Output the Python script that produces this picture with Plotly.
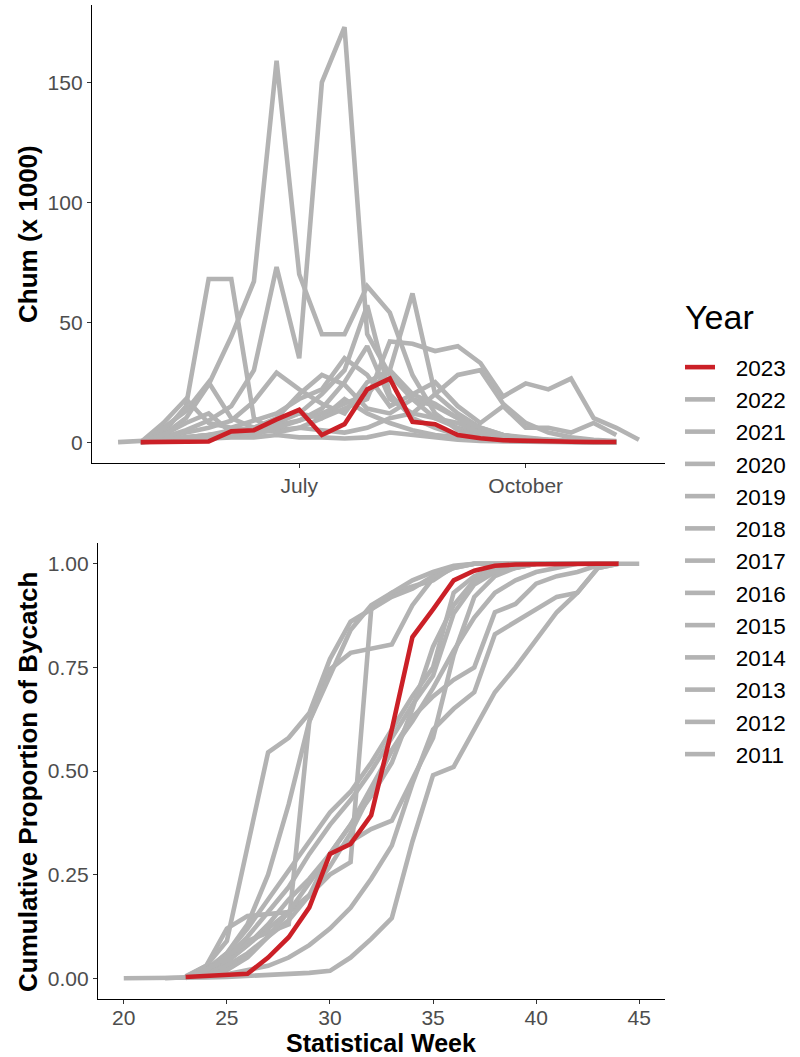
import plotly.graph_objects as go

# ---------------- data ----------------
years = ["2023", "2022", "2021", "2020", "2019", "2018", "2017",
         "2016", "2015", "2014", "2013", "2012", "2011"]

weeks_top = list(range(22, 46))      # statistical weeks for weekly chum (x 1000)
weeks_bottom = list(range(20, 46))   # statistical weeks for cumulative proportion

# weekly chum bycatch (x 1000), weeks 22..45 (None = no data)
chum_2023 = [None, 0, 0, 0, 0.3, 4.5, 5, 9.5, 13.5, 3, 7.5, 22, 26.5, 8.5, 7.5, 3, 1.6, 0.8, 0.5, 0.3, 0.2, 0.1, 0.1, None]
chum_2022 = [None, 0, 8, 18, 8, 6, 9, 12, 18, 22, 35, 28, 15, 20, 16, 10, 6, 3, 1, 0.5, 0.2, 0, 0, None]
chum_2021 = [None, 0, 1, 2, 3, 4, 6, 9, 12, 10, 14, 18, 42, 41, 38, 40, 33, 19, 24.5, 22, 26.5, 10, 6, 1]
chum_2020 = [None, 0, 3, 8, 12, 4, 3, 6, 9, 14, 25, 40, 18, 12, 10, 8, 4, 2, 1, 0.5, 0.2, 0.1, 0, None]
chum_2019 = [None, 0, 3, 10, 24, 44, 67, 159, 70, 45, 45, 65, 54, 28, 12, 5, 2, 1, 0.5, 0.3, 0.2, 0.1, 0, None]
chum_2018 = [None, 0, 0.5, 1, 2, 3, 5, 7, 9, 12, 16, 20, 30, 62, 20, 12, 6, 3, 1.5, 1, 0.5, 0.2, 0, None]
chum_2017 = [None, 0, 2, 5, 9, 15, 30, 73, 35, 150, 173, 45, 28, 18, 10, 6, 3, 1.5, 1, 0.5, 0.3, 0.2, 0, None]
chum_2016 = [None, 0, 1, 2, 3, 5, 6, 8, 12, 20, 30, 57, 20, 10, 6, 3, 2, 1, 0.5, 0.2, 0.1, 0, 0, None]
chum_2015 = [None, 0, 6, 13, 25, 10, 6, 10, 20, 28, 24, 14, 12, 18, 15, 10, 5, 3, 2, 1, 0.5, 0.2, 0, None]
chum_2014 = [None, 0, 4, 15, 68, 68, 10, 4, 6, 10, 18, 12, 8, 5, 3, 2, 1, 0.5, 0.3, 0.2, 0.1, 0, 0, None]
chum_2013 = [None, 0, 2, 4, 6, 9, 17, 29, 22, 16, 12, 25, 30, 20, 25, 15, 8, 15, 6, 6, 4, 8, 3, None]
chum_2012 = [0, 0.5, 1, 2, 3, 3, 4, 5, 6, 5, 4, 6, 10, 12, 20, 28, 30, 16, 8, 4, 2, 1, 0.5, None]
chum_2011 = [None, 0, 0.5, 1, 1.5, 2, 2, 3, 2, 2, 1.5, 2, 4, 3, 2, 1, 0.5, 0.3, 0.2, 0.1, 0, 0, 0, None]

# cumulative proportion of bycatch, weeks 20..45
cum_2023 = [None, None, None, 0.003, 0.006, 0.008, 0.011, 0.05, 0.099, 0.171, 0.30, 0.324, 0.393, 0.60, 0.823, 0.89, 0.96, 0.983, 0.995, 0.998, 0.999, 1, 1, 1, 1, None]
cum_2022 = [None, None, None, 0.001, 0.008, 0.02, 0.05, 0.1, 0.16, 0.23, 0.3, 0.37, 0.44, 0.52, 0.65, 0.8, 0.9, 0.96, 0.98, 0.99, 1, 1, 1, 1, 1, None]
cum_2021 = [0, 0, 0, 0, 0.002, 0.003, 0.005, 0.007, 0.01, 0.013, 0.018, 0.05, 0.095, 0.145, 0.33, 0.49, 0.51, 0.6, 0.69, 0.75, 0.815, 0.883, 0.93, 0.99, 1, 1]
cum_2020 = [None, None, None, 0.001, 0.02, 0.05, 0.1, 0.16, 0.22, 0.3, 0.37, 0.43, 0.5, 0.58, 0.66, 0.73, 0.88, 0.95, 0.98, 0.99, 1, 1, 1, 1, 1, None]
cum_2019 = [None, None, None, 0.002, 0.02, 0.05, 0.09, 0.11, 0.13, 0.62, 0.73, 0.84, 0.9, 0.93, 0.96, 0.98, 0.995, 1, 1, 1, 1, 1, 1, 1, 1, None]
cum_2018 = [None, None, None, 0.001, 0.01, 0.03, 0.06, 0.1, 0.14, 0.2, 0.27, 0.35, 0.45, 0.55, 0.63, 0.68, 0.72, 0.75, 0.883, 0.903, 0.952, 0.97, 0.98, 0.996, 1, None]
cum_2017 = [None, None, None, 0.002, 0.015, 0.04, 0.08, 0.12, 0.16, 0.2, 0.25, 0.28, 0.89, 0.92, 0.94, 0.97, 0.99, 1, 1, 1, 1, 1, 1, 1, 1, None]
cum_2016 = [None, None, None, 0.002, 0.02, 0.06, 0.12, 0.19, 0.26, 0.33, 0.4, 0.45, 0.52, 0.6, 0.68, 0.75, 0.93, 0.97, 0.99, 1, 1, 1, 1, 1, 1, None]
cum_2015 = [None, None, None, 0.002, 0.01, 0.04, 0.08, 0.13, 0.19, 0.24, 0.3, 0.37, 0.46, 0.55, 0.62, 0.7, 0.79, 0.87, 0.93, 0.96, 0.98, 0.99, 1, 1, 1, None]
cum_2014 = [None, None, None, 0.005, 0.03, 0.09, 0.32, 0.545, 0.58, 0.64, 0.77, 0.86, 0.89, 0.93, 0.945, 0.96, 0.993, 1, 1, 1, 1, 1, 1, 1, 1, None]
cum_2013 = [None, None, None, 0.003, 0.03, 0.12, 0.15, 0.155, 0.16, 0.2, 0.3, 0.33, 0.36, 0.38, 0.48, 0.58, 0.78, 0.92, 0.97, 0.99, 1, 1, 1, 1, 1, None]
cum_2012 = [None, None, 0, 0.002, 0.005, 0.01, 0.02, 0.03, 0.05, 0.08, 0.12, 0.17, 0.24, 0.32, 0.47, 0.6, 0.65, 0.69, 0.83, 0.86, 0.887, 0.92, 0.93, 0.99, 1, None]
cum_2011 = [None, None, None, 0.003, 0.02, 0.06, 0.13, 0.25, 0.42, 0.62, 0.745, 0.785, 0.795, 0.805, 0.9, 0.965, 0.99, 1, 1, 1, 1, 1, 1, 1, 1, None]

top_ticks = [30, 40]
top_tick_labels = ["July", "October"]

chum = {"2023": chum_2023, "2022": chum_2022, "2021": chum_2021, "2020": chum_2020,
        "2019": chum_2019, "2018": chum_2018, "2017": chum_2017, "2016": chum_2016,
        "2015": chum_2015, "2014": chum_2014, "2013": chum_2013, "2012": chum_2012,
        "2011": chum_2011}
cum = {"2023": cum_2023, "2022": cum_2022, "2021": cum_2021, "2020": cum_2020,
       "2019": cum_2019, "2018": cum_2018, "2017": cum_2017, "2016": cum_2016,
       "2015": cum_2015, "2014": cum_2014, "2013": cum_2013, "2012": cum_2012,
       "2011": cum_2011}

# ---------------- figure ----------------
W, H = 800, 1057
GRAY = "#B3B3B3"
RED = "#CB2027"
FONT = "Liberation Sans, Arial, sans-serif"
LW = 4.6
PAD = "\u2002\u2009"  # small visual gap between legend key and label


def pairs(xs, ys):
    xx, yy = [], []
    for x, y in zip(xs, ys):
        if y is not None:
            xx.append(x)
            yy.append(y)
    return xx, yy


fig = go.Figure()
draw_order = years[1:][::-1] + ["2023"]  # gray first, red on top
for yr in draw_order:
    color = RED if yr == "2023" else GRAY
    rank = years.index(yr) + 1
    x1, y1 = pairs(weeks_top, chum[yr])
    fig.add_trace(go.Scatter(x=x1, y=y1, mode="lines", name=PAD + yr, legendgroup=yr,
                             legendrank=rank, line=dict(color=color, width=LW),
                             xaxis="x", yaxis="y", showlegend=True))
    x2, y2 = pairs(weeks_bottom, cum[yr])
    fig.add_trace(go.Scatter(x=x2, y=y2, mode="lines", name=PAD + yr, legendgroup=yr,
                             legendrank=rank, line=dict(color=color, width=LW),
                             xaxis="x2", yaxis="y2", showlegend=False))

axis_common = dict(showline=True, linecolor="black", linewidth=1.3, ticks="outside",
                   ticklen=4, tickwidth=1.1, tickcolor="#333333", showgrid=False,
                   zeroline=False, automargin=False,
                   tickfont=dict(family=FONT, size=21, color="#4D4D4D"))

fig.update_layout(
    width=W, height=H,
    margin=dict(l=0, r=0, t=0, b=0),
    paper_bgcolor="white", plot_bgcolor="white",
    font=dict(family=FONT, color="black"),
    xaxis=dict(domain=[92 / W, 665 / W], range=[20.85, 46.15], anchor="y",
               tickvals=top_ticks, ticktext=top_tick_labels, **axis_common),
    yaxis=dict(domain=[1 - 463 / H, 1 - 5 / H], range=[-8.68, 182.2], anchor="x",
               tickvals=[0, 50, 100, 150], **axis_common),
    xaxis2=dict(domain=[98 / W, 665 / W], range=[18.75, 46.25], anchor="y2",
                tickvals=[20, 25, 30, 35, 40, 45], ticklabelstandoff=-4, **axis_common),
    yaxis2=dict(domain=[1 - 999 / H, 1 - 543 / H], range=[-0.05, 1.05], anchor="x2",
                tickvals=[0, 0.25, 0.5, 0.75, 1.0], tickformat=".2f", **axis_common),
    legend=dict(x=680 / W, xanchor="left", y=1 - 346 / H, yanchor="top",
                font=dict(family=FONT, size=22.5, color="black"),
                bgcolor="rgba(0,0,0,0)", tracegroupgap=0, itemwidth=30),
    annotations=[
        dict(text="Year", x=683 / W, y=1 - 317 / H, xref="paper", yref="paper",
             showarrow=False, xanchor="left", yanchor="middle",
             font=dict(family=FONT, size=34, color="black")),
        dict(text="<b>Chum (x 1000)</b>", x=28 / W, y=1 - 234 / H, xref="paper", yref="paper",
             textangle=-90, showarrow=False, xanchor="center", yanchor="middle",
             font=dict(family=FONT, size=26, color="black")),
        dict(text="<b>Cumulative Proportion of Bycatch</b>", x=28 / W, y=1 - 782 / H,
             xref="paper", yref="paper", textangle=-90, showarrow=False,
             xanchor="center", yanchor="middle",
             font=dict(family=FONT, size=26, color="black")),
        dict(text="<b>Statistical Week</b>", x=381 / W, y=1 - 1043 / H, xref="paper",
             yref="paper", showarrow=False, xanchor="center", yanchor="middle",
             font=dict(family=FONT, size=25, color="black")),
    ],
)

fig.write_html("out.html")
